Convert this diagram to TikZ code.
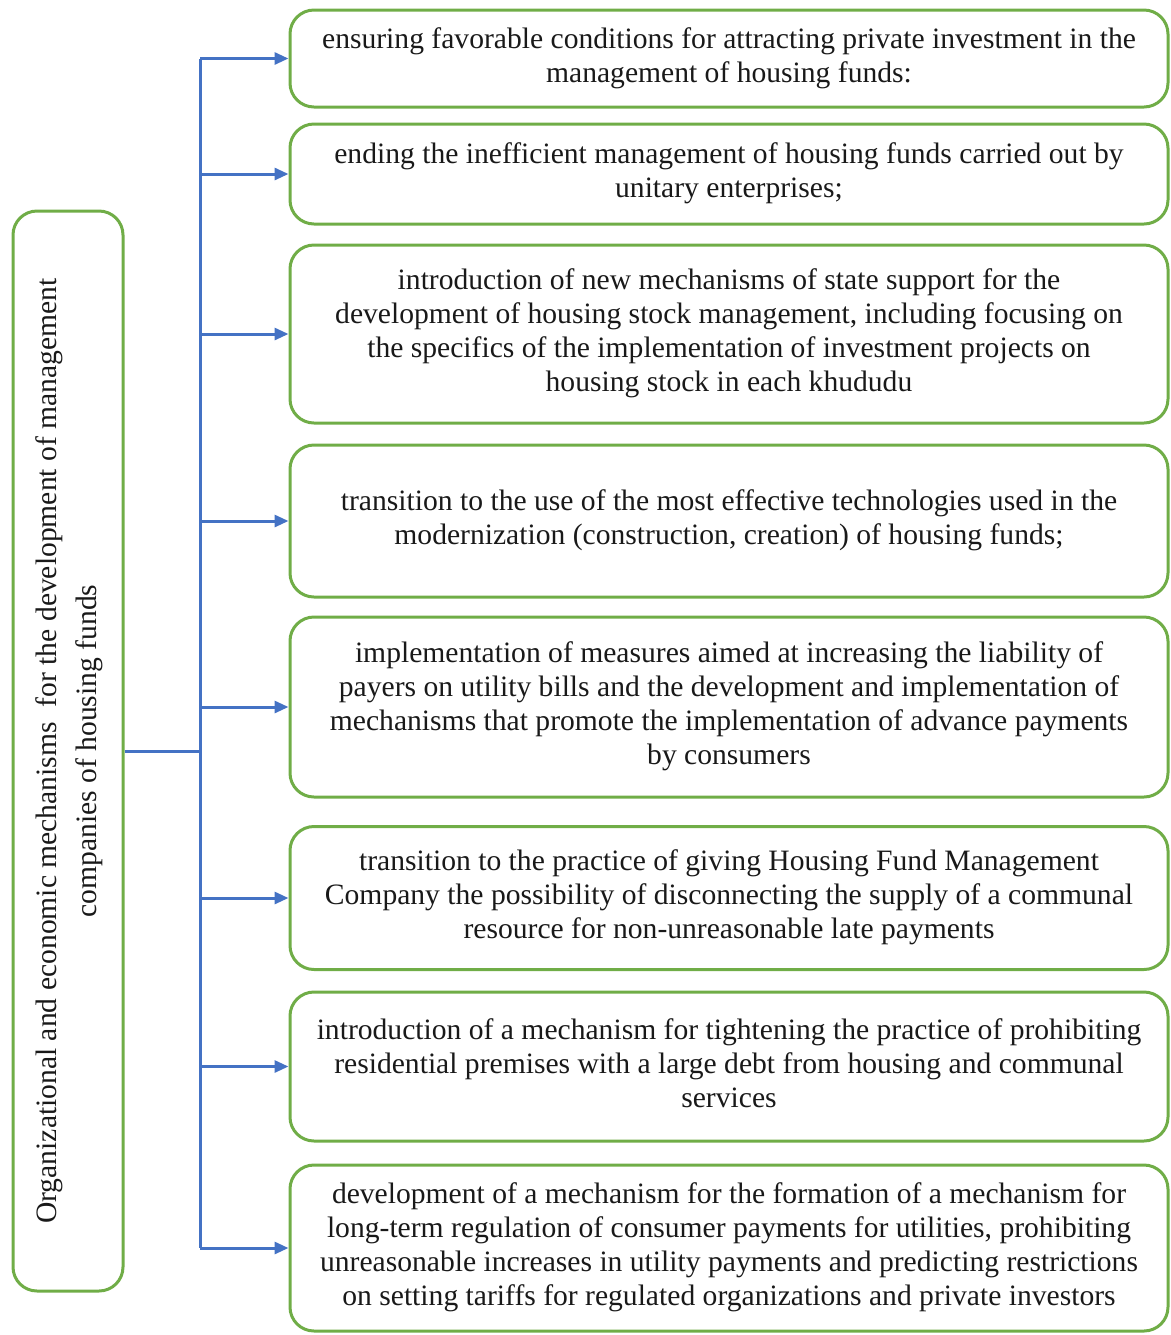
\documentclass[tikz,border=0pt]{standalone}
\usepackage{fontspec}
\setmainfont{Liberation Serif}
\usepackage{xcolor}
\usepackage{tikz}
\usetikzlibrary{arrows.meta}
\definecolor{boxgreen}{HTML}{70AD47}
\definecolor{linkblue}{HTML}{4472C4}
\newcommand{\lines}[1]{\begin{tabular}{@{}c@{}}#1\end{tabular}}

\begin{document}
\begin{tikzpicture}[
  x=0.5pt, y=-0.5pt,
  item/.style={draw=boxgreen, line width=1.5pt, rounded corners=12pt, minimum width=439pt, inner sep=0pt, font=\fontsize{14.8}{17}\selectfont, text=black!90},
  mainbox/.style={draw=boxgreen, line width=1.5pt, rounded corners=12pt, minimum width=55pt, minimum height=540pt, inner sep=0pt, font=\fontsize{14.8}{20}\selectfont, text=black!90},
  link/.style={draw=linkblue, line width=1.5pt},
  arrow/.style={link, -{Triangle[length=7pt,width=6pt]}}
]
\useasboundingbox (0,0) rectangle (1171,1335);

\node[mainbox] (main) at (68,751) {\rotatebox{90}{\lines{%
  Organizational and economic mechanisms \ for the development of management\\
  companies of housing funds}}};

\node[item, minimum height=48.5pt] (b1) at (729,58.5) {\lines{ensuring favorable conditions for attracting private investment in the\\
  management of housing funds:}};
\node[item, minimum height=50pt] (b2) at (729,174) {\lines{ending the inefficient management of housing funds carried out by\\
  unitary enterprises;}};
\node[item, minimum height=89pt] (b3) at (729,334) {\lines{introduction of new mechanisms of state support for the\\
  development of housing stock management, including focusing on\\
  the specifics of the implementation of investment projects on\\
  housing stock in each khududu}};
\node[item, minimum height=76pt] (b4) at (729,521) {\lines{transition to the use of the most effective technologies used in the\\
  modernization (construction, creation) of housing funds;}};
\node[item, minimum height=90pt] (b5) at (729,707) {\lines{implementation of measures aimed at increasing the liability of\\
  payers on utility bills and the development and implementation of\\
  mechanisms that promote the implementation of advance payments\\
  by consumers}};
\node[item, minimum height=71.5pt] (b6) at (729,898) {\lines{transition to the practice of giving Housing Fund Management\\
  Company the possibility of disconnecting the supply of a communal\\
  resource for non-unreasonable late payments}};
\node[item, minimum height=74.5pt] (b7) at (729,1066.5) {\lines{introduction of a mechanism for tightening the practice of prohibiting\\
  residential premises with a large debt from housing and communal\\
  services}};
\node[item, minimum height=83pt] (b8) at (729,1248) {\lines{development of a mechanism for the formation of a mechanism for\\
  long-term regulation of consumer payments for utilities, prohibiting\\
  unreasonable increases in utility payments and predicting restrictions\\
  on setting tariffs for regulated organizations and private investors}};

% connectors
\coordinate (spine) at (200,751);
\draw[link] (main.east) -- (spine);
\draw[link] (spine |- b1.west) -- (spine |- b8.west);
\foreach \i in {1,...,8}
  \draw[arrow] (spine |- b\i.west) -- (b\i.west);
\end{tikzpicture}
\end{document}
